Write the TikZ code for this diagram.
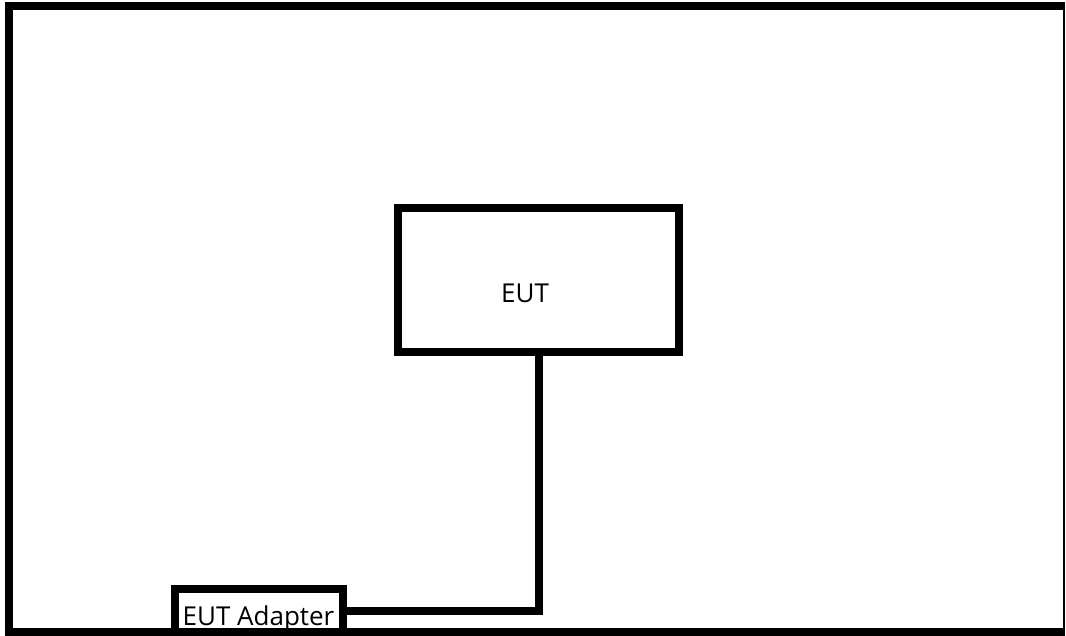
\documentclass[tikz,border=0pt]{standalone}
\usepackage{fontspec}
\setmainfont{Open Sans}
\begin{document}
\begin{tikzpicture}[x=1pt,y=-1pt,
  box/.style={draw, line width=8pt, rectangle, inner sep=0pt},
  wire/.style={line width=8pt},
  lbl/.style={font=\fontsize{26}{30}\selectfont, inner sep=0pt}]
  \useasboundingbox (0,0) rectangle (1066,636);
  % frame
  \draw[line width=8pt] (1065,6) -- (9,6) -- (9,632) -- (1065,632);
  \draw[line width=2pt] (1064,6) -- (1064,632);
  % units
  \node[box, minimum width=281pt, minimum height=144pt] (eut) at (538.5,280) {};
  \node[lbl] (euttext) at (525,293) {EUT};
  \node[box, minimum width=168pt, minimum height=45pt] (adapter) at (259,611) {};
  \node[lbl, anchor=base] (adaptertext) at (258.5,625) {EUT Adapter};
  % cable
  \draw[wire] (eut.south) |- (adapter.east);
\end{tikzpicture}
\end{document}
